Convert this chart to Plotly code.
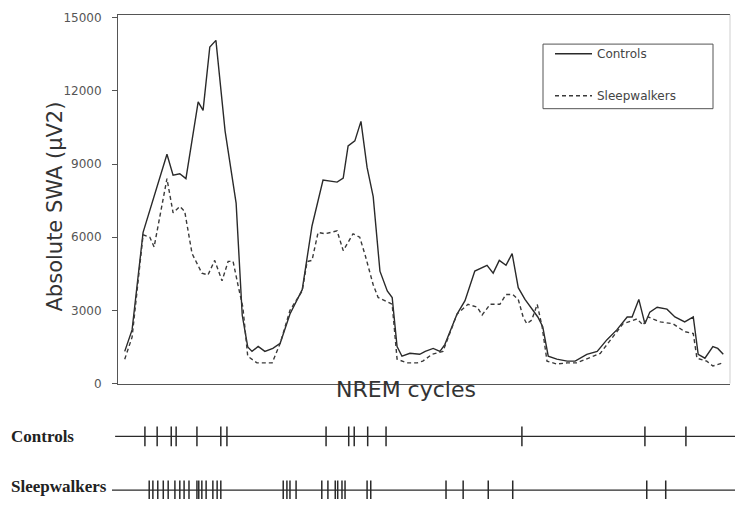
import plotly.graph_objects as go

# ---- data (x in arbitrary time units across the night, 0..100) ----
ctrl_x = [1.1, 2.3, 4.1, 8.0, 9.0, 10.1, 11.1, 13.1, 13.9, 15.0, 16.0, 17.5, 19.3, 20.3, 21.2,
          21.9, 22.9, 24.0, 25.3, 26.5, 28.1, 30.1, 31.7, 33.5, 35.8, 36.8, 37.6, 38.7, 39.7,
          40.7, 41.7, 42.8, 44.0, 44.8, 45.6, 46.4, 47.7, 49.3, 50.2, 51.5, 52.6, 53.4, 55.4,
          56.7, 58.3, 60.3, 61.3, 62.3, 63.4, 64.4, 65.4, 66.5, 68.6, 69.4, 70.3, 71.7, 73.4,
          74.7, 76.6, 78.3, 79.9, 81.5, 83.2, 84.0, 85.1, 86.1, 86.9, 88.1, 89.7, 91.0, 92.6,
          94.0, 94.8, 95.9, 97.2, 98.0, 98.9]
ctrl_y = [1320, 2200, 6200, 9400, 8540, 8600, 8400, 11550, 11200, 13800, 14070, 10350, 7400, 2800, 1500,
          1320, 1520, 1320, 1440, 1650, 2850, 3850, 6460, 8340, 8260, 8420, 9740, 9950, 10750,
          8860, 7660, 4610, 3800, 3530, 1520, 1120, 1240, 1200, 1320, 1440, 1320, 1600, 2850,
          3400, 4610, 4850, 4530, 5050, 4850, 5330, 3930, 3450, 2730, 2330, 1120, 1000, 920,
          920, 1200, 1320, 1800, 2200, 2730, 2730, 3450, 2450, 2930, 3130, 3050, 2730, 2530,
          2730, 1200, 1040, 1520, 1440, 1200]

sw_x = [1.1, 2.3, 4.1, 5.2, 5.9, 8.0, 9.0, 10.1, 10.9, 12.1, 13.7, 14.7, 15.8, 17.0, 18.0, 18.8,
        19.6, 20.4, 21.2, 22.7, 25.2, 26.5, 28.1, 30.1, 30.9, 31.7, 32.7, 33.8, 35.8, 36.8, 38.4,
        39.5, 40.4, 41.7, 42.5, 44.0, 44.8, 45.6, 47.2, 48.9, 49.8, 51.3, 53.1, 55.4, 57.2, 58.7,
        59.5, 60.8, 62.4, 63.4, 64.5, 65.4, 66.2, 66.8, 67.6, 68.5, 69.3, 70.1, 71.7, 73.4, 75.0,
        78.8, 82.5, 84.8, 85.8, 86.6, 88.6, 90.7, 92.6, 94.0, 94.6, 96.2, 97.2, 98.9]
sw_y = [1000, 1900, 6100, 6000, 5600, 8400, 7000, 7260, 7060, 5330, 4530, 4450, 5050, 4210, 5010, 5010,
        4050, 3130, 1120, 850, 850, 1650, 3000, 3800, 5000, 5050, 6200, 6140, 6260, 5450, 6140,
        6000, 5250, 4050, 3530, 3330, 3250, 1000, 850, 850, 920, 1200, 1320, 2850, 3250, 3130,
        2810, 3250, 3250, 3650, 3650, 3450, 2730, 2450, 2600, 3250, 2330, 920, 800, 850, 850,
        1240, 2450, 2650, 2400, 2730, 2530, 2450, 2130, 2050, 1040, 920, 720, 850]

# event rasters (same time units)
ctrl_events = [4.4, 6.4, 8.7, 9.5, 12.9, 16.8, 17.8, 34.0, 37.7, 38.6, 40.8, 43.8, 66.0, 86.1, 92.8]
sw_events = [5.1, 5.7, 6.5, 7.4, 8.2, 9.3, 10.1, 10.8, 11.6, 12.9, 13.2, 13.7, 14.4, 15.5, 16.2, 16.8,
             27.0, 27.6, 28.1, 29.1, 33.3, 34.3, 35.5, 35.9, 36.6, 37.1, 40.7, 41.3,
             53.6, 56.4, 60.5, 64.5, 86.4, 89.5]

yticks = [0, 3000, 6000, 9000, 12000, 15000]
yticklabels = ["0", "3000", "6000", "9000", "12000", "15000"]
groups = ["Controls", "Sleepwalkers"]

W, H = 735, 506
SANS = "DejaVu Sans"
INK = "#2a2a2a"

fig = go.Figure()
fig.add_trace(go.Scatter(x=ctrl_x, y=ctrl_y, mode="lines", name=groups[0], legendgroup="a",
                         line=dict(color=INK, width=1.4)))
fig.add_trace(go.Scatter(x=sw_x, y=sw_y, mode="lines", name=groups[1], legendgroup="b",
                         line=dict(color="#3a3a3a", width=1.4, dash="4px,3px")))

for ev, row in ((ctrl_events, 1), (sw_events, 0)):
    fig.add_trace(go.Scatter(x=ev, y=[row] * len(ev), mode="markers", xaxis="x2", yaxis="y2",
                             showlegend=False, hoverinfo="x",
                             marker=dict(symbol="line-ns", size=14,
                                         line=dict(color=INK, width=1.5))))

fig.update_layout(
    width=W, height=H,
    margin=dict(l=0, r=0, t=0, b=0),
    paper_bgcolor="white", plot_bgcolor="white",
    showlegend=True,
    legend=dict(x=550 / W, y=1 - 36 / H, xanchor="left", yanchor="top",
                borderwidth=0, bgcolor="rgba(0,0,0,0)",
                font=dict(family=SANS, size=12, color="#444"),
                traceorder="grouped", tracegroupgap=23, itemwidth=37),
    xaxis=dict(domain=[118 / W, 730 / W], range=[0, 100], showticklabels=False, ticks="",
               showgrid=False, zeroline=False, showline=True, mirror=True,
               linecolor="#555", linewidth=1),
    yaxis=dict(domain=[1 - 388 / H, 1 - 11 / H], range=[0, 15120], tickvals=yticks,
               ticktext=yticklabels,
               ticks="outside", ticklen=5, tickcolor="#555", ticklabelstandoff=8,
               tickfont=dict(family=SANS, size=12, color="#555"),
               showgrid=False, zeroline=False, showline=True, linecolor="#555", linewidth=1),
    xaxis2=dict(domain=[112 / W, 1], range=[-0.98, 100.82], visible=False, anchor="y2"),
    yaxis2=dict(domain=[0, 0.16], range=[-0.164, 1.309], visible=False, anchor="x2"),
    shapes=[
        dict(type="line", xref="x domain", yref="y domain", x0=1, x1=1, y0=0, y1=1,
             line=dict(color="#cfcfcf", width=1)),
        dict(type="rect", xref="paper", yref="paper", x0=543 / W, x1=713 / W,
             y0=1 - 107 / H, y1=1 - 41 / H, line=dict(color="#555", width=1)),
        dict(type="line", xref="x2 domain", yref="y2", x0=0.005, x1=1, y0=1, y1=1,
             line=dict(color=INK, width=1.2)),
        dict(type="line", xref="x2 domain", yref="y2", x0=0, x1=1, y0=0, y1=0,
             line=dict(color=INK, width=1.2)),
    ],
    annotations=[
        dict(text="Absolute SWA (μV2)", xref="paper", yref="paper", x=40 / W, y=1 - 207 / H,
             textangle=-90, showarrow=False, font=dict(family=SANS, size=21, color="#333")),
        dict(text="NREM cycles", xref="paper", yref="paper", x=406 / W, y=1 - 409 / H,
             showarrow=False, font=dict(family=SANS, size=22, color="#333")),
        dict(text=groups[0], xref="paper", yref="y2", x=9 / W, y=1, xanchor="left",
             showarrow=False, font=dict(family="Liberation Serif", size=17, color="#222",
                                        weight="bold")),
        dict(text=groups[1], xref="paper", yref="y2", x=9 / W, y=0, yshift=4, xanchor="left",
             showarrow=False, font=dict(family="Liberation Serif", size=17, color="#222",
                                        weight="bold")),
    ],
)

fig.write_html("out.html")
